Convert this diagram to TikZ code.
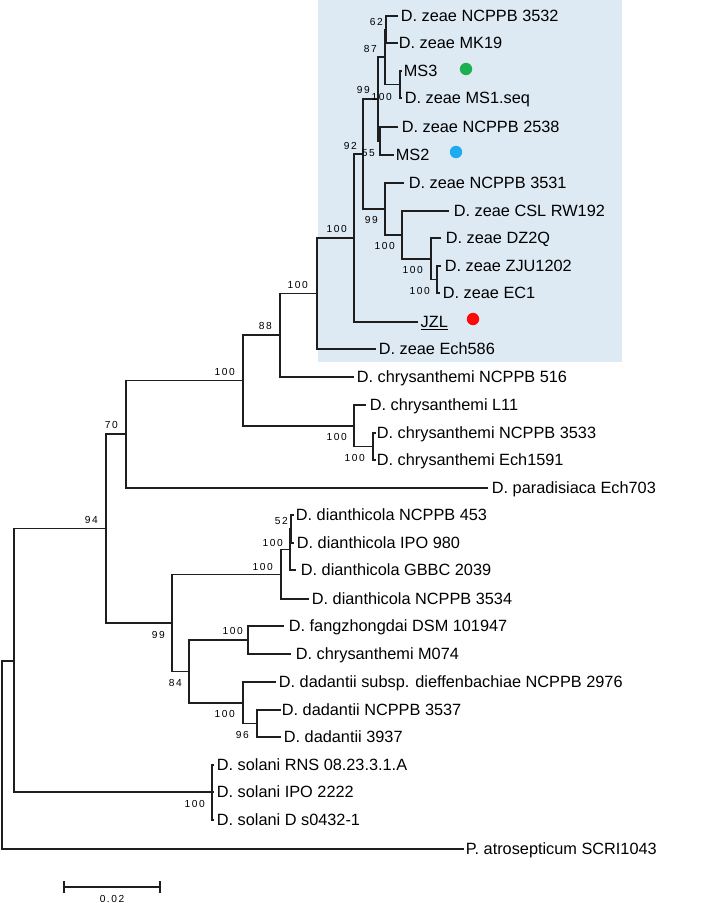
\documentclass[tikz,border=0pt]{standalone}
\usepackage{fontspec}
\setmainfont{Liberation Sans}
\newfontfamily\bootfont{Liberation Sans}[LetterSpace=15]
\definecolor{boxblue}{RGB}{221,233,243}
\definecolor{dotgreen}{RGB}{28,176,80}
\definecolor{dotblue}{RGB}{30,172,240}
\definecolor{dotred}{RGB}{255,8,8}
\definecolor{branchcol}{RGB}{30,30,30}
\tikzset{
  taxon/.style={anchor=west, inner sep=0pt, font=\fontsize{16.3}{18}\selectfont, text height=11.7pt, text depth=0pt},
  boot/.style={anchor=east, inner sep=0pt, font=\bootfont\fontsize{10.2}{12}\selectfont, text height=7.3pt, text depth=0pt},
  branch/.style={draw=branchcol, line width=1.25pt, line cap=rect},
  dot/.style={radius=6.2pt}
}
\begin{document}
\begin{tikzpicture}[x=1pt,y=-1pt]
\useasboundingbox (0,0) rectangle (709,903);
\fill[white] (0,0) rectangle (709,903);
% highlight box
\fill[boxblue] (318,0) rectangle (622,362);

% ---- tips (branch ends) ----
\coordinate (t1) at (397,16);
\coordinate (t2) at (397,43);
\coordinate (t3) at (401,71);
\coordinate (t4) at (401,98);
\coordinate (t5) at (397,127);
\coordinate (t6) at (393,155);
\coordinate (t7) at (403,183);
\coordinate (t8) at (448,211);
\coordinate (t9) at (440,238);
\coordinate (t10) at (440,266);
\coordinate (t11) at (439,293);
\coordinate (t12) at (417,322);
\coordinate (t13) at (375,349);
\coordinate (t14) at (353,377);
\coordinate (t15) at (365,405);
\coordinate (t16) at (375,433);
\coordinate (t17) at (375,460);
\coordinate (t18) at (487,488);
\coordinate (t19) at (293,515);
\coordinate (t20) at (293,543);
\coordinate (t21) at (295,570);
\coordinate (t22) at (308,599);
\coordinate (t23) at (283,626);
\coordinate (t24) at (290,654);
\coordinate (t25) at (275,682);
\coordinate (t26) at (280,710);
\coordinate (t27) at (280,737);
\coordinate (t28) at (213,765);
\coordinate (t29) at (213,792);
\coordinate (t30) at (213,820);
\coordinate (t31) at (463,849);

% ---- internal nodes ----
\coordinate (A) at (386,29.5);
\coordinate (M) at (400,84.5);
\coordinate (B) at (385,57);
\coordinate (N) at (380,141);
\coordinate (C) at (378,99);
\coordinate (I) at (437,279.5);
\coordinate (H) at (431,259);
\coordinate (G) at (402,235);
\coordinate (F) at (385,209);
\coordinate (D) at (363,154);
\coordinate (E) at (354,238);
\coordinate (P) at (317,293.5);
\coordinate (O) at (280,335);
\coordinate (S) at (373,446.5);
\coordinate (R) at (354,426);
\coordinate (Q) at (243,380.5);
\coordinate (T) at (126,434);
\coordinate (Ya) at (291,529);
\coordinate (Y) at (290,549.5);
\coordinate (X) at (281,574.5);
\coordinate (K) at (248,640);
\coordinate (Kd) at (257,723.5);
\coordinate (J) at (243,703);
\coordinate (L) at (189,671.5);
\coordinate (V) at (172,623);
\coordinate (U) at (106,528.5);
\coordinate (Sol) at (212,792);
\coordinate (W) at (14,661);
\coordinate (root) at (2,755);

% ---- branches ----
\draw[branch] (A) |- (t1);  \draw[branch] (A) |- (t2);
\draw[branch] (M) |- (t3);  \draw[branch] (M) |- (t4);
\draw[branch] (B) |- (A);   \draw[branch] (B) |- (M);
\draw[branch] (N) |- (t5);  \draw[branch] (N) |- (t6);
\draw[branch] (C) |- (B);   \draw[branch] (C) |- (N);
\draw[branch] (I) |- (t10); \draw[branch] (I) |- (t11);
\draw[branch] (H) |- (t9);  \draw[branch] (H) |- (I);
\draw[branch] (G) |- (t8);  \draw[branch] (G) |- (H);
\draw[branch] (F) |- (t7);  \draw[branch] (F) |- (G);
\draw[branch] (D) |- (C);   \draw[branch] (D) |- (F);
\draw[branch] (E) |- (D);   \draw[branch] (E) |- (t12);
\draw[branch] (P) |- (E);   \draw[branch] (P) |- (t13);
\draw[branch] (O) |- (P);   \draw[branch] (O) |- (t14);
\draw[branch] (S) |- (t16); \draw[branch] (S) |- (t17);
\draw[branch] (R) |- (t15); \draw[branch] (R) |- (S);
\draw[branch] (Q) |- (O);   \draw[branch] (Q) |- (R);
\draw[branch] (T) |- (Q);   \draw[branch] (T) |- (t18);
\draw[branch] (Ya) |- (t19); \draw[branch] (Ya) |- (t20);
\draw[branch] (Y) |- (Ya);  \draw[branch] (Y) |- (t21);
\draw[branch] (X) |- (Y);   \draw[branch] (X) |- (t22);
\draw[branch] (K) |- (t23); \draw[branch] (K) |- (t24);
\draw[branch] (Kd) |- (t26); \draw[branch] (Kd) |- (t27);
\draw[branch] (J) |- (t25); \draw[branch] (J) |- (Kd);
\draw[branch] (L) |- (K);   \draw[branch] (L) |- (J);
\draw[branch] (V) |- (X);   \draw[branch] (V) |- (L);
\draw[branch] (U) |- (T);   \draw[branch] (U) |- (V);
\draw[branch] (Sol) |- (t28); \draw[branch] (Sol) |- (t29); \draw[branch] (Sol) |- (t30);
\draw[branch] (W) |- (U);   \draw[branch] (W) |- (Sol);
\draw[branch] (root) |- (W); \draw[branch] (root) |- (t31);

% ---- taxon labels ----
\node[taxon] (l1) at (400.7,16) {D. zeae NCPPB 3532};
\node[taxon] (l2) at (398.7,43) {D. zeae MK19};
\node[taxon] (l3) at (403.7,71) {MS3};
\node[taxon] (l4) at (404.7,98) {D. zeae MS1.seq};
\node[taxon] (l5) at (401.7,127) {D. zeae NCPPB 2538};
\node[taxon] (l6) at (395.7,155) {MS2};
\node[taxon] (l7) at (408.7,183) {D. zeae NCPPB 3531};
\node[taxon] (l8) at (453.7,211) {D. zeae CSL RW192};
\node[taxon] (l9) at (445.7,238) {D. zeae DZ2Q};
\node[taxon] (l10) at (444.7,266) {D. zeae ZJU1202};
\node[taxon] (l11) at (442.7,293) {D. zeae EC1};
\node[taxon] (l12) at (420.5,322) {\underline{JZL}};
\node[taxon] (l13) at (378.7,349) {D. zeae Ech586};
\node[taxon] (l14) at (356.7,377) {D. chrysanthemi NCPPB 516};
\node[taxon] (l15) at (369.7,405) {D. chrysanthemi L11};
\node[taxon] (l16) at (376.7,433) {D. chrysanthemi NCPPB 3533};
\node[taxon] (l17) at (376.7,460) {D. chrysanthemi Ech1591};
\node[taxon] (l18) at (491.7,488) {D. paradisiaca Ech703};
\node[taxon] (l19) at (295.7,515) {D. dianthicola NCPPB 453};
\node[taxon] (l20) at (296.7,543) {D. dianthicola IPO 980};
\node[taxon] (l21) at (300.7,570) {D. dianthicola GBBC 2039};
\node[taxon] (l22) at (311.7,599) {D. dianthicola NCPPB 3534};
\node[taxon] (l23) at (288.7,626) {D. fangzhongdai DSM 101947};
\node[taxon] (l24) at (295.7,654) {D. chrysanthemi M074};
\node[taxon] (l25) at (278.7,682) {D. dadantii subsp. dieffenbachiae NCPPB 2976};
\node[taxon] (l26) at (281.7,710) {D. dadantii NCPPB 3537};
\node[taxon] (l27) at (283.7,737) {D. dadantii 3937};
\node[taxon] (l28) at (216.7,765) {D. solani RNS 08.23.3.1.A};
\node[taxon] (l29) at (216.7,792) {D. solani IPO 2222};
\node[taxon] (l30) at (216.7,820) {D. solani D s0432-1};
\node[taxon] (l31) at (465.7,849) {P. atrosepticum SCRI1043};

% ---- marker dots ----
\fill[dotgreen] (466,69) circle[dot];
\fill[dotblue] (456,152) circle[dot];
\fill[dotred] (473,319) circle[dot];

% ---- bootstrap values ----
\node[boot] (b1) at (383,22) {62};
\node[boot] (b2) at (377,49) {87};
\node[boot] (b3) at (370,90) {99};
\node[boot] (b4) at (392,97) {100};
\node[boot] (b5) at (357,146) {92};
\node[boot] (b6) at (375,153) {55};
\node[boot] (b7) at (378,220) {99};
\node[boot] (b8) at (395,246) {100};
\node[boot] (b9) at (423,270) {100};
\node[boot] (b10) at (430,291) {100};
\node[boot] (b11) at (347,229) {100};
\node[boot] (b12) at (308,285) {100};
\node[boot] (b13) at (272,326) {88};
\node[boot] (b14) at (235,372) {100};
\node[boot] (b15) at (347,437) {100};
\node[boot] (b16) at (365,458) {100};
\node[boot] (b17) at (118,425) {70};
\node[boot] (b18) at (98,520) {94};
\node[boot] (b19) at (288,521) {52};
\node[boot] (b20) at (283,543) {100};
\node[boot] (b21) at (273,567) {100};
\node[boot] (b22) at (165,635) {99};
\node[boot] (b23) at (243,631) {100};
\node[boot] (b24) at (182,683) {84};
\node[boot] (b25) at (235,714) {100};
\node[boot] (b26) at (249,735) {96};
\node[boot] (b27) at (205,804) {100};

% ---- scale bar ----
\coordinate (sbL) at (64,887);
\coordinate (sbR) at (160,887);
\draw[branch, line cap=butt] (sbL) -- (sbR);
\draw[branch, line cap=butt] ([yshift=-6pt]sbL) -- ([yshift=6pt]sbL);
\draw[branch, line cap=butt] ([yshift=-6pt]sbR) -- ([yshift=6pt]sbR);
\node[boot, anchor=center] (sbtext) at (112,899) {0.02};
\end{tikzpicture}
\end{document}
